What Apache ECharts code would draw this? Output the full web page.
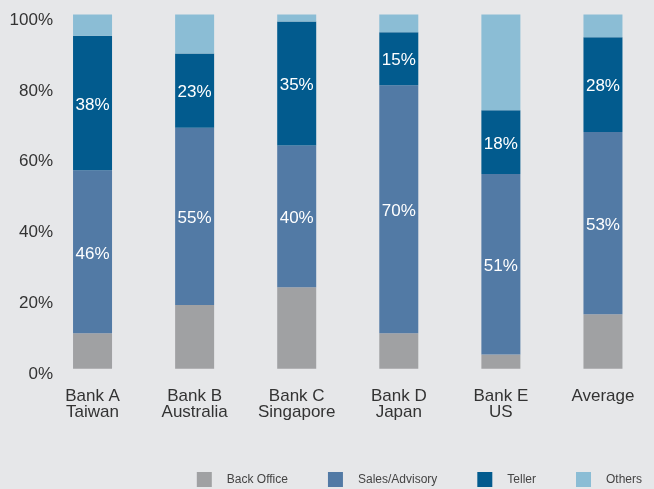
<!DOCTYPE html>
<html><head><meta charset="utf-8">
<script src="https://cdn.jsdelivr.net/npm/echarts@6/dist/echarts.min.js"></script>
<style>html,body{margin:0;padding:0;background:#e6e7e9;}#c{width:654px;height:489px;}</style>
</head><body><div id="c"></div>
<script>
const categories = ['Bank A\nTaiwan', 'Bank B\nAustralia', 'Bank C\nSingapore', 'Bank D\nJapan', 'Bank E\nUS', 'Average'];
const seriesNames = ['Back Office', 'Sales/Advisory', 'Teller', 'Others'];
const backOffice = [10, 18, 23, 10, 4, 15.4];
const sales = [46, 50, 40, 70, 51, 51.4];
const teller = [38, 21, 35, 15, 18, 26.8];
const others = [6, 11, 2, 5, 27, 6.4];
const salesLabels = ['46%', '55%', '40%', '70%', '51%', '53%'];
const tellerLabels = ['38%', '23%', '35%', '15%', '18%', '28%'];
const yMin = 0, yMax = 100, yStep = 20;

const colors = ['#a0a1a3', '#527aa5', '#025b8e', '#8bbdd5'];
const font = 'Liberation Sans';
function lbl(texts) {
  return { show: true, position: 'inside', offset: [0, 2], color: '#ffffff', fontFamily: font, fontSize: 17,
    formatter: p => texts[p.dataIndex] };
}
const chart = echarts.init(document.getElementById('c'), null, { renderer: 'canvas' });
chart.setOption({
  backgroundColor: '#e6e7e9',
  animation: false,
  color: colors,
  grid: { left: 41.5, top: 14.5, width: 624, height: 354.2, containLabel: false },
  legend: {
    data: seriesNames, right: 12, bottom: 2, padding: 0, icon: 'rect', itemWidth: 15, itemHeight: 15, itemGap: 40,
    textStyle: { fontFamily: font, fontSize: 12, color: '#444', padding: [0, 0, 0, 10] }
  },
  xAxis: {
    type: 'category', data: categories,
    axisLine: { show: false }, axisTick: { show: false },
    axisLabel: { fontFamily: font, fontSize: 17, color: '#333', lineHeight: 16, margin: 20, interval: 0 }
  },
  yAxis: {
    type: 'value', min: yMin, max: yMax, interval: yStep,
    axisLine: { show: false }, axisTick: { show: false }, splitLine: { show: false },
    axisLabel: { fontFamily: font, fontSize: 17, color: '#333', margin: -11.5, verticalAlign: 'top', lineHeight: 11,
      formatter: '{value}%' }
  },
  series: [
    { name: seriesNames[0], type: 'bar', stack: 's', barWidth: 39, data: backOffice },
    { name: seriesNames[1], type: 'bar', stack: 's', barWidth: 39, data: sales, label: lbl(salesLabels) },
    { name: seriesNames[2], type: 'bar', stack: 's', barWidth: 39, data: teller, label: lbl(tellerLabels) },
    { name: seriesNames[3], type: 'bar', stack: 's', barWidth: 39, data: others }
  ]
});
</script></body></html>
